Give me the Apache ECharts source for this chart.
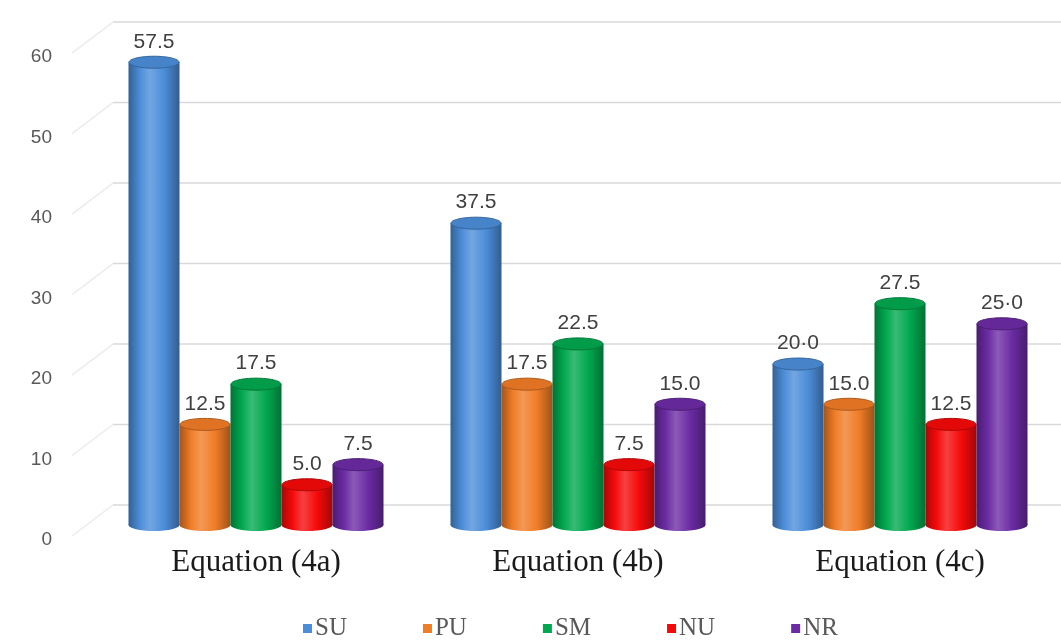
<!DOCTYPE html>
<html>
<head>
<meta charset="utf-8">
<script src="https://cdn.jsdelivr.net/npm/echarts@6/dist/echarts.min.js"></script>
<style>html,body{margin:0;padding:0;background:#fff;}#c{width:1061px;height:641px;}</style>
</head>
<body>
<div id="c"></div>
<script>
const categories = ['Equation (4a)', 'Equation (4b)', 'Equation (4c)'];
const seriesNames = ['SU', 'PU', 'SM', 'NU', 'NR'];
const SU = [57.5, 37.5, 20.0];
const PU = [12.5, 17.5, 15.0];
const SM = [17.5, 22.5, 27.5];
const NU = [5.0, 7.5, 12.5];
const NR = [7.5, 15.0, 25.0];
const yTicks = [0, 10, 20, 30, 40, 50, 60];
const middleDotLabels = [['SU', 2], ['NR', 2]];

const seriesValues = [SU, PU, SM, NU, NR];
const colors = ['#4b8dd8', '#f07c26', '#00a84f', '#f50a0a', '#6b2ba3'];
const BAR_W = 51;
const CAP_RY = 6;
const DEPTH = 20;

function parseHex(h) {
  h = h.replace('#', '');
  return [parseInt(h.slice(0, 2), 16), parseInt(h.slice(2, 4), 16), parseInt(h.slice(4, 6), 16)];
}
function toRgb(a) { return 'rgb(' + a.map(v => Math.max(0, Math.min(255, Math.round(v)))).join(',') + ')'; }
function darken(h, f) { return toRgb(parseHex(h).map(v => v * f)); }
function lighten(h, f) { return toRgb(parseHex(h).map(v => v + (255 - v) * f)); }

function labelText(name, idx, v) {
  let s = v.toFixed(1);
  if (middleDotLabels.some(p => p[0] === name && p[1] === idx)) s = s.replace('.', '\u00b7');
  return s;
}

function makeRender(sIdx, color, name) {
  return function (params, api) {
    const ci = api.value(0);
    const v = api.value(1);
    const base = api.coord([ci, 0]);
    const top = api.coord([ci, v]);
    const bw = BAR_W;
    const cx = base[0] + (sIdx - 2) * bw;
    const x = cx - bw / 2;
    const grad = new echarts.graphic.LinearGradient(0, 0, 1, 0, [
      { offset: 0, color: darken(color, 0.68) },
      { offset: 0.22, color: color },
      { offset: 0.42, color: lighten(color, 0.22) },
      { offset: 0.7, color: color },
      { offset: 1, color: darken(color, 0.66) }
    ]);
    return {
      type: 'group',
      children: [
        { type: 'ellipse', shape: { cx: cx, cy: base[1], rx: bw / 2, ry: CAP_RY }, style: { fill: grad } },
        { type: 'rect', shape: { x: x, y: top[1], width: bw, height: base[1] - top[1] }, style: { fill: grad } },
        { type: 'ellipse', shape: { cx: cx, cy: top[1], rx: bw / 2 - 0.5, ry: CAP_RY },
          style: { fill: darken(color, 0.93), stroke: darken(color, 0.72), lineWidth: 1 } },
        { type: 'text', style: { text: labelText(name, params.dataIndex, v), x: cx, y: top[1] - CAP_RY - 4,
          align: 'center', verticalAlign: 'bottom', fill: '#404040',
          font: '21px "Liberation Sans", Arial, sans-serif' } }
      ]
    };
  };
}

function renderWall(params, api) {
  const cs = params.coordSys;
  const t = api.value(1);
  const p = api.coord([0, t]);
  const yg = p[1] - DEPTH;
  const yl = p[1] + 11;
  return {
    type: 'group',
    children: [
      { type: 'line', shape: { x1: cs.x - 23, y1: yl, x2: cs.x + 18, y2: yg }, style: { stroke: '#ececec', lineWidth: 1.5 } },
      { type: 'line', shape: { x1: cs.x + 18, y1: yg, x2: cs.x + cs.width, y2: yg }, style: { stroke: '#d9d9d9', lineWidth: 1.5 } }
    ]
  };
}

const series = [{
  name: 'wall', type: 'custom', silent: true, z: 1,
  renderItem: renderWall,
  encode: { x: 0, y: 1 },
  data: yTicks.map(t => [0, t])
}];
seriesNames.forEach((n, i) => {
  series.push({
    name: n, type: 'custom', z: 2,
    itemStyle: { color: colors[i] },
    renderItem: makeRender(i, colors[i], n),
    encode: { x: 0, y: 1 },
    data: seriesValues[i].map((v, j) => [j, v])
  });
});

const chart = echarts.init(document.getElementById('c'));
chart.setOption({
  animation: false,
  backgroundColor: '#ffffff',
  grid: { left: 95, width: 987, top: 22, bottom: 116 },
  legend: {
    data: seriesNames, left: 298, bottom: -5, icon: 'rect', itemWidth: 9, itemHeight: 9, itemGap: 76,
    textStyle: { fontFamily: '"Liberation Serif", "Times New Roman", serif', fontSize: 25, color: '#595959', padding: [0, 0, 0, -2] }
  },
  xAxis: {
    type: 'category', data: categories,
    axisLine: { show: false }, axisTick: { show: false }, splitLine: { show: false },
    axisLabel: { fontFamily: '"Liberation Serif", "Times New Roman", serif', fontSize: 31, color: '#1a1a1a', margin: 22 }
  },
  yAxis: {
    type: 'value', min: 0, max: 62.5, interval: 10,
    axisLine: { show: false }, axisTick: { show: false }, splitLine: { show: false },
    axisLabel: {
      formatter: v => (v % 10 === 0 ? String(v) : ''),
      fontFamily: '"Liberation Sans", Arial, sans-serif', fontSize: 19, color: '#595959',
      margin: 43, verticalAlign: 'top', lineHeight: 30
    }
  },
  series: series
});
</script>
</body>
</html>
